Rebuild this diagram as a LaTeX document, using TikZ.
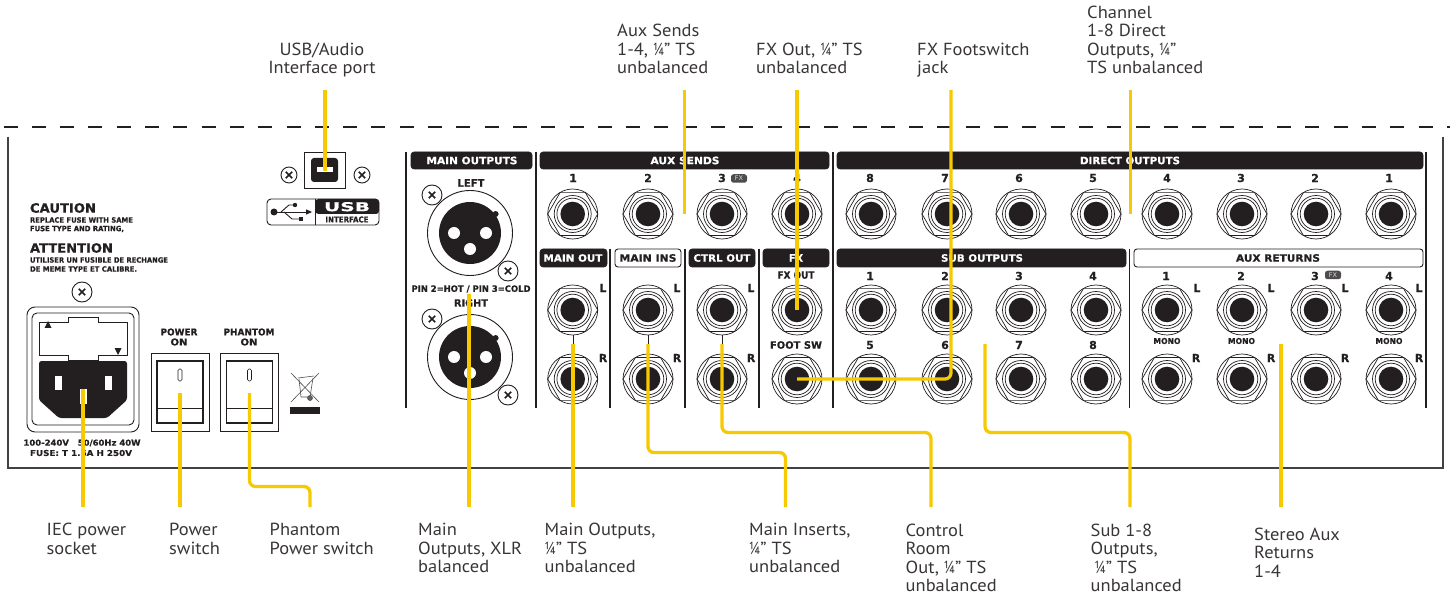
\documentclass[tikz,border=0pt]{standalone}
\usepackage{fontspec}
\usepackage{graphicx}
\setmainfont{PT Sans}[FakeStretch=1.055]
\newfontfamily\pnlfont{DejaVu Sans}[BoldFont={DejaVu Sans Bold},BoldFeatures={FakeBold=0.6}]
\definecolor{ink}{HTML}{231F20}
\definecolor{yel}{HTML}{F7C900}
\newcount\pc
\newcommand{\qrt}{\scalebox{.72}[1]{¼}}
\tikzset{
  lbl/.style={anchor=base west,inner sep=0pt,align=left,font=\fontsize{17.5}{18.5}\selectfont,text=ink!90!white},
  pnl/.style={inner sep=0pt,text=ink,font=\pnlfont\bfseries},
  num/.style={inner sep=0pt,text=ink,font=\pnlfont\bfseries\fontsize{11}{11}\selectfont},
  hdr/.style={fill=ink,rounded corners=3pt,draw=ink,line width=.6pt},
  hdw/.style={fill=white,rounded corners=3pt,draw=ink,line width=.9pt},
  divi/.style={draw=ink,line width=1.3pt},
  yline/.style={draw=yel,line width=3.3pt,rounded corners=6pt},
  jackn/.style={circle,draw=ink,fill=white,line width=.7pt,inner sep=0pt,minimum size=50pt},
  screw/.style={circle,draw=ink,fill=white,line width=.9pt,inner sep=0pt}
}
% panel text fitted to a width and a height
\newcommand{\ptx}[6][pnl]{\global\advance\pc by 1
  \node[#1] (pt\the\pc) at (#2,#3) {\resizebox{#4pt}{#5pt}{#6}};}
\newcommand{\nm}[3]{\global\advance\pc by 1
  \node[num] (pt\the\pc) at (#1,#2) {#3};}
\newcommand{\jackat}[3]{%
  \node[jackn] (#1) at (#2,#3) {};
  \draw[ink,line width=.7pt] (#2-25,#3) -- (#2-12.5,#3-21.6) -- (#2+12.5,#3-21.6) -- (#2+25,#3) -- (#2+12.5,#3+21.6) -- (#2-12.5,#3+21.6) -- cycle;
  \draw[ink,line width=.7pt,fill=white] (#2,#3) circle (18.5pt);
  \draw[ink,line width=.7pt,fill=white] (#2,#3) circle (15.8pt);
  \fill[ink] (#2,#3) circle (12.3pt);
}
\newcommand{\screwat}[4]{% name x y radius
  \node[screw,minimum size=#4*2pt] (#1) at (#2,#3) {};
  \draw[ink,line width=1.6pt] (#2-3.2,#3-3.2) -- (#2+3.2,#3+3.2) (#2-3.2,#3+3.2) -- (#2+3.2,#3-3.2);
}
\newcommand{\xlrat}[3]{%
  \node[circle,draw=ink,line width=.9pt,inner sep=0pt,minimum size=85pt] (#1) at (#2,#3) {};
  \fill[ink] (#2,#3) circle (31pt);
  \fill[ink] (#2+25.6,#3-19) circle (3pt);
  \fill[white] (#2-16,#3) circle (6pt) (#2+16,#3) circle (6pt) (#2,#3+16) circle (6pt);
}
\newcommand{\rocker}[2]{% name cx
  \node[draw=ink,line width=.9pt,minimum width=58pt,minimum height=78pt,inner sep=0pt] (#1) at (#2,392) {};
  \draw[ink,line width=1.8pt] (#2-23,361) rectangle (#2+23,423);
  \draw[ink,line width=.8pt] (#2-23,408) -- (#2+23,408);
  \draw[ink,line width=.7pt,rounded corners=1.5pt] (#2-2,369) rectangle (#2+2,381);
}
\begin{document}
\begin{tikzpicture}[x=1pt,y=-1pt]
\useasboundingbox (0,0) rectangle (1450,601);
% chassis
\draw[ink!85!white,line width=1.3pt] (8,137) -- (8,468) -- (1443,468) -- (1443,137);
\draw[ink,line width=2pt,dash pattern=on 14pt off 14.3pt] (3.5,127) -- (1450,127);
% caution text
\ptx{63}{208}{66}{9.5}{CAUTION}
\ptx{81.5}{220}{103}{5.4}{REPLACE FUSE WITH SAME}
\ptx{77}{229}{94}{5.4}{FUSE TYPE AND RATING,}
\ptx{71.5}{248}{83}{9.5}{ATTENTION}
\ptx{99}{260}{138}{5.4}{UTILISER UN FUSIBLE DE RECHANGE}
\ptx{83.5}{269}{107}{5.4}{DE MEME TYPE ET CALIBRE.}
% usb port
\node[draw=ink,line width=.9pt,minimum width=41pt,minimum height=36pt,inner sep=0pt] (usbbox) at (324.5,170) {};
\fill[ink,rounded corners=3pt] (311,158) rectangle (338,182);
\fill[white] (317,167) rectangle (333,172);
\screwat{usbL}{289}{175}{8}
\screwat{usbR}{362}{175}{8}
% usb logo
\node[draw=ink,line width=.9pt,rounded corners=4pt,minimum width=112pt,minimum height=26pt,inner sep=0pt] (usblogo) at (323,212) {};
\fill[ink,rounded corners=3pt] (315.5,199) -- (379,199) -- (379,214) -- (315.5,214) -- cycle;
\draw[ink,line width=.9pt] (315.5,199) -- (315.5,225);
\ptx[pnl,text=white]{347}{206.7}{46}{9}{USB}
\ptx{347}{219.5}{43}{6}{INTERFACE}
\fill[ink] (274,212) circle (3.5pt);
\draw[ink,line width=.9pt] (274,212) -- (308,212);
\fill[ink] (312,212) -- (306,209.3) -- (306,214.7) -- cycle;
\draw[ink,line width=.9pt] (281,212) -- (289,205) -- (295,205);
\draw[ink,line width=.9pt] (284,212) -- (292,219) -- (299,219);
\fill[ink] (295,205) circle (2.2pt);
\fill[ink] (298.5,217) rectangle (303,221.5);
% iec inlet
\screwat{iecS}{82}{292}{10}
\node[draw=ink,line width=.9pt,rounded corners=8pt,minimum width=112pt,minimum height=125pt,inner sep=0pt] (iecO) at (83,369.5) {};
\draw[ink,line width=.9pt,rounded corners=5pt] (32,313) rectangle (134,425);
\draw[ink,line width=.8pt] (39,322) -- (68,322) -- (68,317) -- (98,317) -- (98,322) -- (127,322) -- (127,355) -- (98,355) -- (98,360) -- (68,360) -- (68,355) -- (39,355) -- cycle;
\fill[ink] (48,321) -- (44.5,328) -- (51.5,328) -- cycle;
\fill[ink] (118,355) -- (114.5,348) -- (121.5,348) -- cycle;
\fill[ink,rounded corners=2.5pt] (39,361) -- (127,361) -- (127,400) -- (107,418) -- (59,418) -- (39,400) -- cycle;
\fill[white] (54.5,375.5) rectangle (61.5,390);
\fill[white] (104.5,375.5) rectangle (111.5,390);
\fill[white] (79.5,389) rectangle (86.5,404);
\ptx{82}{443}{117}{6}{100-240V ~ 50/60Hz 40W}
\ptx{81}{453}{102}{6}{FUSE: T 1.6A H 250V}
% switches
\ptx{179}{332}{37}{7}{POWER}
\ptx{179}{342}{17}{7}{ON}
\rocker{powsw}{180}
\ptx{249}{332}{51}{7}{PHANTOM}
\ptx{249}{342}{17}{7}{ON}
\rocker{phsw}{249.5}
% weee
\draw[ink!80!white,line width=.6pt] (291,373) -- (319,402) (319,373) -- (291,402);
\draw[ink!80!white,line width=.6pt] (298,378) -- (314,376) (299,379) -- (301,397) -- (310,397) -- (313,378);
\draw[ink!80!white,line width=.6pt,fill=ink!70!white] (310,398) circle (2.5pt);
\fill[ink] (290,407) rectangle (320,414);
% dividers
\foreach \dx in {406,536,833,1426} \draw[divi] (\dx,152) -- (\dx,408);
\foreach \dx in {610,685,759,1129.5} \draw[divi] (\dx,249) -- (\dx,408);
% headers
\draw[hdr] (411,152) rectangle (532,169);
\draw[hdr] (540,152) rectangle (829,169);
\draw[hdr] (837,152) rectangle (1423,169);
\draw[hdr] (540,249) rectangle (607,267);
\draw[hdw] (615,249) rectangle (681,267);
\draw[hdr] (689,249) rectangle (755,267);
\draw[hdr] (763,249) rectangle (829,267);
\draw[hdr] (837,249) rectangle (1126,267);
\draw[hdw] (1134,249) rectangle (1423,267);
\ptx[pnl,text=white]{472}{160.5}{91}{7.5}{MAIN OUTPUTS}
\ptx[pnl,text=white]{685}{160.5}{69}{7.5}{AUX SENDS}
\ptx[pnl,text=white]{1130}{160.5}{100}{7.5}{DIRECT OUTPUTS}
\ptx[pnl,text=white]{573}{258}{59}{7.5}{MAIN OUT}
\ptx{648}{258}{57}{7.5}{MAIN INS}
\ptx[pnl,text=white]{722}{258}{57}{7.5}{CTRL OUT}
\ptx[pnl,text=white]{796}{258}{14}{7.5}{FX}
\ptx[pnl,text=white]{982}{258}{82}{7.5}{SUB OUTPUTS}
\ptx{1278}{258}{84}{7.5}{AUX RETURNS}
% xlr
\ptx{471}{183}{27}{7.5}{LEFT}
\ptx{471}{289}{119}{6.5}{PIN 2=HOT / PIN 3=COLD}
\ptx{471}{303}{34}{7.5}{RIGHT}
\xlrat{xlrL}{470}{233}
\xlrat{xlrR}{470}{357}
\screwat{xlrLa}{432}{195}{10}
\screwat{xlrLb}{508}{271}{10}
\screwat{xlrRa}{432}{319}{10}
\screwat{xlrRb}{508}{395}{10}
% small links between stereo pairs
\foreach \lx in {573,648,722} \draw[ink,line width=.8pt] (\lx,335) -- (\lx,354);
% jacks
\jackat{as1}{572.7}{214}\jackat{as2}{648}{214}\jackat{as3}{722}{214}\jackat{as4}{797}{214}
\jackat{do8}{871}{214}\jackat{do7}{947}{214}\jackat{do6}{1021}{214}\jackat{do5}{1096}{214}
\jackat{do4}{1167}{214}\jackat{do3}{1242}{214}\jackat{do2}{1316}{214}\jackat{do1}{1391}{214}
\jackat{moL}{572.7}{310}\jackat{miL}{648}{310}\jackat{coL}{722}{310}\jackat{fxout}{797}{310}
\jackat{moR}{572.7}{379}\jackat{miR}{648}{379}\jackat{coR}{722}{379}\jackat{footsw}{797}{379}
\jackat{so1}{871}{310}\jackat{so2}{947}{310}\jackat{so3}{1021}{310}\jackat{so4}{1096}{310}
\jackat{so5}{871}{379}\jackat{so6}{947}{379}\jackat{so7}{1021}{379}\jackat{so8}{1096}{379}
\jackat{ar1}{1167}{310}\jackat{ar2}{1242}{310}\jackat{ar3}{1316}{310}\jackat{ar4}{1391}{310}
\jackat{ar5}{1167}{379}\jackat{ar6}{1242}{379}\jackat{ar7}{1316}{379}\jackat{ar8}{1391}{379}
% numerals
\nm{573}{178}{1}\nm{648}{178}{2}\nm{722}{178}{3}\nm{797}{178}{4}
\nm{870}{178}{8}\nm{945}{178}{7}\nm{1019}{178}{6}\nm{1093}{178}{5}
\nm{1167}{178}{4}\nm{1241}{178}{3}\nm{1315}{178}{2}\nm{1389}{178}{1}
\nm{870}{276}{1}\nm{945}{276}{2}\nm{1019}{276}{3}\nm{1093}{276}{4}
\nm{870}{345}{5}\nm{945}{345}{6}\nm{1019}{345}{7}\nm{1093}{345}{8}
\nm{1166}{276}{1}\nm{1241}{276}{2}\nm{1315}{276}{3}\nm{1389}{276}{4}
\nm{603}{288}{L}\nm{677}{288}{L}\nm{751}{288}{L}\nm{1197}{288}{L}\nm{1271}{288}{L}\nm{1345}{288}{L}\nm{1419}{288}{L}
\nm{603}{358}{R}\nm{677}{358}{R}\nm{751}{358}{R}\nm{1196}{358}{R}\nm{1271}{358}{R}\nm{1345}{358}{R}\nm{1419}{358}{R}
\ptx{796}{275}{37}{7.5}{FX OUT}
\ptx{796}{345}{52}{7.5}{FOOT SW}
\ptx{1167}{341}{27}{6}{MONO}
\ptx{1241.5}{341}{27}{6}{MONO}
\ptx{1389}{341}{27}{6}{MONO}
% fx badges
\node[fill=ink!80!white,rounded corners=2.5pt,minimum width=16pt,minimum height=8.5pt,inner sep=0pt,text=white!85!black,font=\pnlfont\fontsize{6.5}{6.5}\selectfont] (fxa) at (739,178.5) {FX};
\node[fill=ink!80!white,rounded corners=2.5pt,minimum width=16pt,minimum height=8.5pt,inner sep=0pt,text=white!85!black,font=\pnlfont\fontsize{6.5}{6.5}\selectfont] (fxb) at (1333,275) {FX};
% labels (the coordinate is the baseline of the last line)
\node[lbl,align=center,anchor=base] (lUsb) at (322,74) {USB/Audio\\Interface port};
\node[lbl] (lAux) at (617,74) {Aux Sends\\1-4, \qrt" TS\\unbalanced};
\node[lbl] (lFxo) at (756,74) {FX Out, \qrt" TS\\unbalanced};
\node[lbl] (lFsw) at (917,74) {FX Footswitch\\jack};
\node[lbl] (lDir) at (1087,74) {Channel\\1-8 Direct\\Outputs, \qrt"\\TS unbalanced};
\node[lbl] (lIec) at (46.5,554) {IEC power\\socket};
\node[lbl] (lPow) at (169,554) {Power\\switch};
\node[lbl] (lPha) at (269.5,554) {Phantom\\Power switch};
\node[lbl] (lXlr) at (418,572.7) {Main\\Outputs, XLR\\balanced};
\node[lbl] (lMou) at (544.5,572.7) {Main Outputs,\\\qrt" TS\\unbalanced};
\node[lbl] (lMin) at (749,572.7) {Main Inserts,\\\qrt" TS\\unbalanced};
\node[lbl] (lCtl) at (905.5,591.7) {Control\\Room\\Out, \qrt" TS\\unbalanced};
\node[lbl] (lSub) at (1090.5,591.7) {Sub 1-8\\Outputs,\\\hspace{4pt}\qrt" TS\\unbalanced};
\node[lbl] (lRet) at (1254,577) {Stereo Aux\\Returns\\1-4};
% connector ends
\coordinate (cUsbT) at (325,90);   \coordinate (cUsbB) at (325,171);
\coordinate (cAuxT) at (684.5,90); \coordinate (cAuxB) at (684.5,214);
\coordinate (cFxT) at (797,90);
\coordinate (cFsT) at (951,90);
\coordinate (cDirT) at (1130.5,90);\coordinate (cDirB) at (1130.5,214);
\coordinate (cIecT) at (83,389);   \coordinate (cIecB) at (83,507);
\coordinate (cPowT) at (180,393);  \coordinate (cPowB) at (180,507);
\coordinate (cPhaT) at (249.5,393);\coordinate (cPhaB) at (310,507); \coordinate (cPhaM) at (0,486.5);
\coordinate (cXlrT) at (469,294);  \coordinate (cXlrB) at (469,507);
\coordinate (cMouT) at (573,344);  \coordinate (cMouB) at (573,507);
\coordinate (cMinT) at (648,344);  \coordinate (cMinB) at (785.5,507); \coordinate (cMinM) at (0,452.5);
\coordinate (cCtlT) at (722,344);  \coordinate (cCtlB) at (931,507);   \coordinate (cCtlM) at (0,432.5);
\coordinate (cSubT) at (985,344);  \coordinate (cSubB) at (1130,507);  \coordinate (cSubM) at (0,432.5);
\coordinate (cRetT) at (1281,344); \coordinate (cRetB) at (1281,507);
% connectors
\draw[yline] (cUsbT) -- (cUsbB);
\draw[yline] (cAuxT) -- (cAuxB);
\draw[yline] (cFxT) -- (fxout.center);
\draw[yline] (cFsT) -- (cFsT |- footsw.center) -- (footsw.center);
\draw[yline] (cDirT) -- (cDirB);
\draw[yline] (cIecT) -- (cIecB);
\draw[yline] (cPowT) -- (cPowB);
\draw[yline] (cPhaT) -- (cPhaT |- cPhaM) -- (cPhaB |- cPhaM) -- (cPhaB);
\draw[yline] (cXlrT) -- (cXlrB);
\draw[yline] (cMouT) -- (cMouB);
\draw[yline] (cMinT) -- (cMinT |- cMinM) -- (cMinB |- cMinM) -- (cMinB);
\draw[yline] (cCtlT) -- (cCtlT |- cCtlM) -- (cCtlB |- cCtlM) -- (cCtlB);
\draw[yline] (cSubT) -- (cSubT |- cSubM) -- (cSubB |- cSubM) -- (cSubB);
\draw[yline] (cRetT) -- (cRetB);
\end{tikzpicture}
\end{document}
